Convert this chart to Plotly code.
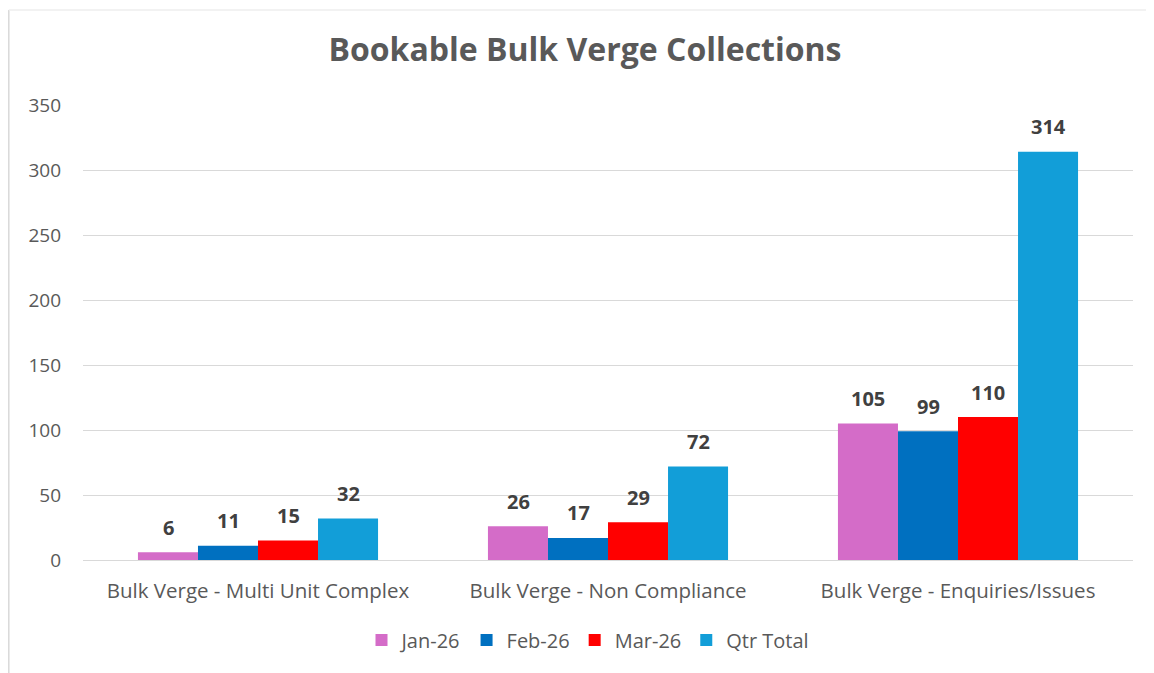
import plotly.graph_objects as go

categories = ["Bulk Verge - Multi Unit Complex", "Bulk Verge - Non Compliance", "Bulk Verge - Enquiries/Issues"]
series_names = ["Jan-26", "Feb-26", "Mar-26", "Qtr Total"]
jan_values = [6, 26, 105]
feb_values = [11, 17, 99]
mar_values = [15, 29, 110]
qtr_values = [32, 72, 314]
y_ticks = [0, 50, 100, 150, 200, 250, 300, 350]

series_values = [jan_values, feb_values, mar_values, qtr_values]
colors = ["#D46CC8", "#0070C0", "#FF0000", "#129ED8"]

FONT = "Open Sans"
GRAY = "#595959"

W, H = 1146, 665
L, R, T, B = 75, 21, 97, 113
PW, PH = W - L - R, H - T - B

fig = go.Figure()
for name, vals, col in zip(series_names, series_values, colors):
    fig.add_trace(go.Bar(
        x=categories, y=vals, name=name,
        marker=dict(color=col, line=dict(width=0)),
    ))

# data labels (Excel-style offset above bars)
annotations = []
bar_px = 60
for i, vals in enumerate(series_values):
    for cat, v in zip(categories, vals):
        annotations.append(dict(
            x=cat, y=v, xref="x", yref="y", text=f"<b>{v}</b>",
            showarrow=False, xshift=(i - 1.5) * bar_px, yshift=25,
            yanchor="middle", font=dict(family=FONT, size=20, color="#404040"),
        ))

fig.update_layout(
    width=W, height=H,
    paper_bgcolor="white", plot_bgcolor="white",
    margin=dict(l=L, r=R, t=T, b=B),
    barmode="group", bargap=0.314, bargroupgap=0,
    title=dict(text="<b>Bookable Bulk Verge Collections</b>", x=577 / W, xanchor="center",
               y=1 - 42 / H, yanchor="middle",
               font=dict(family=FONT, size=32, color=GRAY)),
    font=dict(family=FONT, color=GRAY),
    legend=dict(orientation="h", x=(580 - L) / PW, xanchor="center",
                y=(PH + T - 632) / PH, yanchor="middle",
                font=dict(family=FONT, size=20, color=GRAY), itemwidth=30,
                traceorder="normal"),
    annotations=annotations,
    showlegend=True,
)
fig.update_yaxes(range=[0, 350], tickvals=y_ticks, showgrid=True, gridcolor="#D9D9D9",
                 gridwidth=1, zeroline=False, showline=False,
                 tickfont=dict(family=FONT, size=19, color=GRAY), ticklabelstandoff=21)
fig.update_xaxes(showline=True, linecolor="#D9D9D9", linewidth=1, showgrid=False,
                 tickfont=dict(family=FONT, size=20.5, color=GRAY), ticklabelstandoff=12)

# outer chart border (partially cropped in reference)
top_y = (PH + T - 2) / PH
left_x = (0.8 - L) / PW
fig.add_shape(type="line", xref="paper", yref="paper", x0=left_x, x1=left_x,
              y0=-B / PH - 0.05, y1=top_y, line=dict(color="#D9D9D9", width=1.5))
fig.add_shape(type="line", xref="paper", yref="paper", x0=left_x, x1=1.1,
              y0=top_y, y1=top_y, line=dict(color="#EEEEEE", width=1.5))

fig.write_html("out.html")
